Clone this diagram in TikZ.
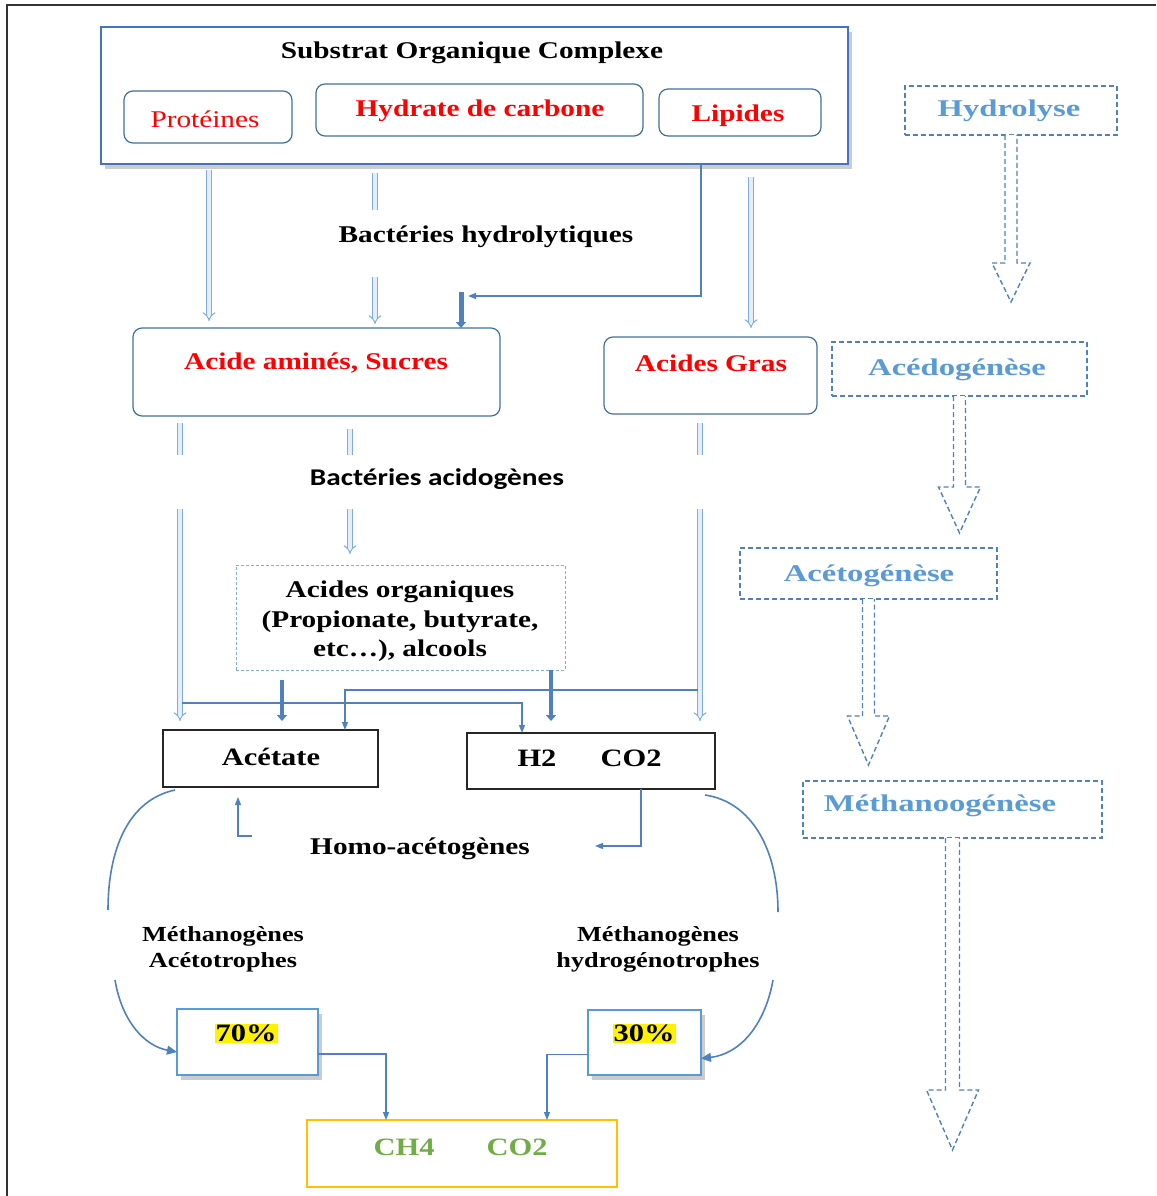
\documentclass[tikz,border=0pt]{standalone}
\usepackage{fontspec}
\setmainfont{Liberation Serif}[FakeStretch=1.22]
\newfontfamily\carlito{Carlito}[FakeStretch=1.22]
\newfontfamily\widefont{Liberation Serif}[FakeStretch=1.36]
\usetikzlibrary{arrows.meta,shadows,calc}
\definecolor{hblue}{HTML}{7FAEDD}
\definecolor{hfill}{HTML}{E3EEF9}
\definecolor{cblue}{HTML}{4F81BD}
\definecolor{bblue}{HTML}{4472C4}
\definecolor{rblue}{HTML}{41719C}
\definecolor{lblue}{HTML}{5B9BD5}
\definecolor{dred}{HTML}{FF0000}
\definecolor{dgreen}{HTML}{70AD47}
\definecolor{gold}{HTML}{FFC000}
\begin{document}
\begin{tikzpicture}[x=1pt,y=-1pt,
  every node/.style={inner sep=0pt, outer sep=0pt},
  txt/.style={font=\fontsize{24}{30}\selectfont\bfseries, align=center, yshift=-2.5pt},
  redtxt/.style={txt, text=dred},
  roundbox/.style={draw=rblue, line width=1.2pt, rounded corners=9pt},
  phasebox/.style={draw=cblue, line width=1.4pt, dash pattern=on 5pt off 3pt, fill=white},
  phasetxt/.style={font=\fontsize{24}{30}\selectfont\bfseries\widefont, text=lblue, yshift=-2pt},
  phasearr/.style={draw=cblue, line width=1.4pt, dash pattern=on 5pt off 3pt, fill=white, line join=miter},
  hollow/.style={draw=hblue, double=hfill, double distance=3.5pt, line width=1pt, -{Implies}},
  hollowseg/.style={draw=hblue, double=hfill, double distance=3.5pt, line width=1pt},
  conn/.style={draw=cblue, line width=1.3pt, -{Triangle[length=8pt,width=6pt]}},
  thickarr/.style={draw=cblue, line width=4.5pt, -{Triangle[length=6pt,width=10pt]}},
  curve/.style={draw=cblue, line width=1.6pt},
  curvearr/.style={draw=cblue, line width=1.6pt, -{Triangle[length=10pt,width=9pt]}},
  shad/.style={drop shadow={shadow xshift=4pt, shadow yshift=-5pt, opacity=0.4}},
]
\useasboundingbox (0,0) rectangle (1156,1196);
\draw[black!80, line width=1.5pt] (7,1196) -- (7,5) -- (1156,5);

% column coordinates
\coordinate (cA) at (209,0);
\coordinate (cB) at (375,0);
\coordinate (cL) at (701,0);
\coordinate (cD) at (751,0);
\coordinate (cE) at (180,0);
\coordinate (cF) at (350,0);
\coordinate (cG) at (700,0);
\coordinate (c282) at (282,0);
\coordinate (c551) at (551,0);
\coordinate (c345) at (345,0);
\coordinate (c522) at (522,0);
\coordinate (c238) at (238,0);
\coordinate (c641) at (641,0);
\coordinate (c386) at (386,0);
\coordinate (c547) at (547,0);
\coordinate (c461) at (461,0);

% top box
\node[draw=bblue, line width=1.6pt, fill=white, shad, minimum width=747pt, minimum height=137pt] (top) at (474.5,95.5) {};
\node[txt] (title) at (472,50) {Substrat Organique Complexe};
\node[roundbox, minimum width=168pt, minimum height=52pt] (prot) at (208,117) {};
\node[font=\fontsize{24}{30}\selectfont, text=dred, yshift=-2pt] (protT) at (205,117) {Protéines};
\node[roundbox, minimum width=327pt, minimum height=52pt] (hyd) at (479.5,110) {};
\node[redtxt] (hydT) at (480,108) {Hydrate de carbone};
\node[roundbox, minimum width=162pt, minimum height=47pt] (lip) at (740,112.5) {};
\node[redtxt] (lipT) at (738,113) {Lipides};

% second row
\node[roundbox, minimum width=367pt, minimum height=88pt] (aas) at (316.5,372) {};
\node[redtxt] (aasT) at (316,361) {Acide aminés, Sucres};
\node[roundbox, minimum width=213pt, minimum height=77pt] (ag) at (710.5,375.5) {};
\node[redtxt] (agT) at (711,361) {Acides Gras};

\node[txt] (bh) at (486,234) {Bactéries hydrolytiques};
\node[font=\fontsize{24}{30}\selectfont\bfseries\carlito, yshift=-1pt] (ba) at (437,478) {Bactéries acidogènes};

% organic acids
\node[draw=hblue, line width=0.9pt, dash pattern=on 3pt off 2pt, minimum width=329pt, minimum height=105pt] (org) at (400.5,617.5) {};
\node[txt, font=\fontsize{24}{29.5}\selectfont\bfseries] (orgT) at (400,619) {Acides organiques\\(Propionate, butyrate,\\etc…), alcools};

% acetate and H2
\node[draw=black!85, line width=1.5pt, minimum width=215pt, minimum height=57pt] (ace) at (270.5,758.5) {};
\node[txt, font=\fontsize{25}{30}\selectfont\bfseries] (aceT) at (271,754) {Acétate};
\node[draw=black!85, line width=1.5pt, minimum width=248pt, minimum height=56pt] (h2) at (591,761) {};
\node[txt, font=\fontsize{25}{30}\selectfont\bfseries] (h2T) at (537,756) {H2};
\node[txt, font=\fontsize{25}{30}\selectfont\bfseries] (co2T) at (631,756) {CO2};

\node[txt] (homo) at (420,846) {Homo-acétogènes};
\node[txt, font=\fontsize{21.5}{26}\selectfont\bfseries] (mA) at (223,947) {Méthanogènes\\Acétotrophes};
\node[txt, font=\fontsize{21.5}{26}\selectfont\bfseries] (mH) at (658,947) {Méthanogènes\\hydrogénotrophes};

% percentage boxes
\node[draw=lblue, line width=1.5pt, fill=white, shad, minimum width=141pt, minimum height=66pt] (p70) at (247.5,1042) {};
\node[txt, fill=yellow, inner sep=1pt, font=\fontsize{25}{30}\selectfont\bfseries] (p70T) at (246,1031) {70\%};
\node[draw=lblue, line width=1.5pt, fill=white, shad, minimum width=113pt, minimum height=65pt] (p30) at (644.5,1042.5) {};
\node[txt, fill=yellow, inner sep=1pt, font=\fontsize{25}{30}\selectfont\bfseries] (p30T) at (644,1031) {30\%};

% final box
\node[draw=gold, line width=1.5pt, minimum width=310pt, minimum height=67pt] (ch4) at (462,1153.5) {};
\node[txt, text=dgreen, font=\fontsize{25}{30}\selectfont\bfseries] (ch4T) at (404,1145) {CH4};
\node[txt, text=dgreen, font=\fontsize{25}{30}\selectfont\bfseries] (co2bT) at (517,1145) {CO2};

% hydrolytic arrows
\draw[hollow, shorten <=6pt, shorten >=7pt] (top.south -| cA) -- (aas.north -| cA);
\coordinate (bB1) at (375,210);
\coordinate (bB2) at (375,277);
\draw[hollowseg, shorten <=9pt] (top.south -| cB) -- (bB1);
\draw[hollow, shorten >=4pt] (bB2) -- (aas.north -| cB);
\draw[hollow, shorten <=13pt, shorten >=9pt] (top.south -| cD) -- (ag.north -| cD);
\coordinate (bend) at (468,296);
\coordinate (bendT) at (461,292);
\draw[conn, line width=1.6pt] (top.south -| cL) |- (bend);
\draw[thickarr, line width=5pt] (bendT) -- (aas.north -| c461);

% acidogenic arrows
\coordinate (eTop) at (180,455);
\coordinate (eBot) at (180,509);
\coordinate (fTop) at (350,455);
\coordinate (fBot) at (350,509);
\coordinate (gTop) at (700,455);
\coordinate (gBot) at (700,509);
\draw[hollowseg, shorten <=7pt] (aas.south -| cE) -- (eTop);
\draw[hollow, shorten >=9pt] (eBot) -- (ace.north -| cE);
\draw[hollowseg, shorten <=13pt] (aas.south -| cF) -- (fTop);
\draw[hollow, shorten >=11pt] (fBot) -- (org.north -| cF);
\draw[hollowseg, shorten <=9pt] (ag.south -| cG) -- (gTop);
\draw[hollow, shorten >=12pt] (gBot) -- (h2.north -| cG);

% thin connectors
\coordinate (jG) at (698,690);
\coordinate (jE) at (182,703);
\draw[conn] (jG) -| (ace.north -| c345);
\draw[conn] (jE) -| (h2.north -| c522);
\draw[thickarr, shorten <=10pt, shorten >=9pt] (org.south -| c282) -- (ace.north -| c282);
\draw[thickarr, shorten >=12pt] (org.south -| c551) -- (h2.north -| c551);

% homo-acetogenes connectors
\coordinate (hA) at (252,836);
\coordinate (hB) at (595,846);
\draw[conn, shorten >=10pt] (hA) -| (ace.south -| c238);
\draw[conn] (h2.south -| c641) |- (hB);

% curves
\coordinate (lq1) at (108,910);
\coordinate (lq2) at (115,980);
\coordinate (rq1) at (778,912);
\coordinate (rq2) at (773,980);
\draw[curve] ([xshift=12pt,yshift=-3pt]ace.south west) .. controls (128,800) and (108,850) .. (lq1);
\draw[curvearr] (lq2) .. controls (122,1022) and (145,1046) .. ([yshift=-10pt]p70.west);
\draw[curve] ([xshift=-10pt,yshift=-6pt]h2.south east) .. controls (752,802) and (778,850) .. (rq1);
\draw[curvearr] (rq2) .. controls (765,1025) and (740,1054) .. ([yshift=-16pt]p30.east);

% bottom connectors
\draw[conn] ([yshift=-12pt]p70.east) -| (ch4.north -| c386);
\draw[conn] ([yshift=-12pt]p30.west) -| (ch4.north -| c547);

% phase boxes (right)
\node[phasebox, minimum width=212pt, minimum height=49pt] (ph1) at (1011,110.5) {};
\node[phasetxt] (ph1T) at (1009,109) {Hydrolyse};
\node[phasebox, minimum width=255pt, minimum height=54pt] (ph2) at (959.5,369) {};
\node[phasetxt] (ph2T) at (957,368) {Acédogénèse};
\node[phasebox, minimum width=257pt, minimum height=51pt] (ph3) at (868.5,573.5) {};
\node[phasetxt] (ph3T) at (869,574) {Acétogénèse};
\node[phasebox, minimum width=299pt, minimum height=57pt] (ph4) at (952.5,809.5) {};
\node[phasetxt] (ph4T) at (940,804) {Méthanoogénèse};

\newcommand\phasearrow[5]{%
  \draw[phasearr] ($(#1.south)+(-#4,0)$) -- ++(0,#2) -- ++({-(#5-#4)},0) -- ++(#5,#3) -- ++(#5,{-#3}) -- ++({-(#5-#4)},0) -- ++(0,{-#2});
}
\phasearrow{ph1}{128}{39}{6}{19}
\phasearrow{ph2}{91}{46}{6}{21}
\phasearrow{ph3}{117}{49}{6}{21}
\phasearrow{ph4}{252}{60}{7}{26}
\end{tikzpicture}
\end{document}
